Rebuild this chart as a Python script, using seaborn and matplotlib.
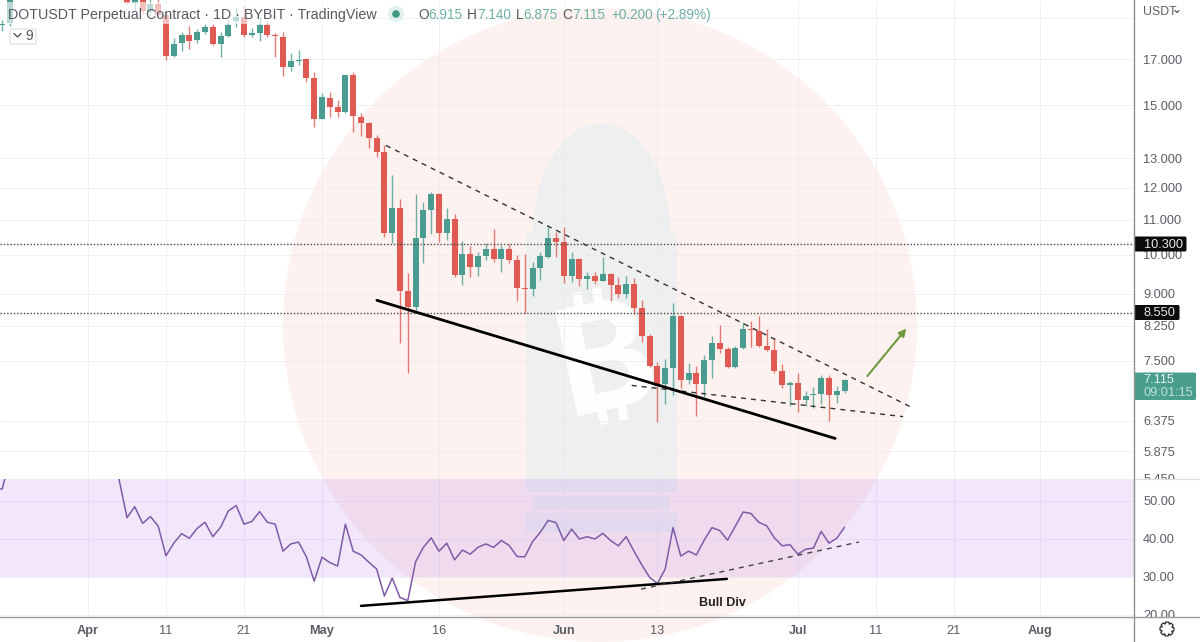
import numpy as np
import pandas as pd
import matplotlib.pyplot as plt
import seaborn as sns
from matplotlib.patches import Circle, Ellipse, Rectangle, FancyBboxPatch, Polygon
from matplotlib.ticker import FixedLocator, FixedFormatter, NullLocator

sns.set_theme(style='white')
plt.rcParams['font.family'] = ['Liberation Sans', 'DejaVu Sans']

# daily candles: two at the far left, then 6 Apr to 7 Jul (the ones between are above the pane)
candle_dates = pd.date_range('2022-03-21', '2022-03-22').append(pd.date_range('2022-04-06', '2022-07-07'))
opens = [18.65, 18.75,
         20.4, 19.79, 20.2, 19.31, 19.73, 19.15, 17.14, 17.75, 18.15, 17.89, 18.28, 18.53, 17.70, 18.08, 18.85, 19.05, 18.13, 18.23, 18.65, 18.13, 18.03, 16.64, 16.91, 17.0, 16.15,
         14.45, 15.29, 14.92, 14.72, 16.28, 14.52, 14.29, 13.72, 13.21, 10.60, 11.35, 9.07, 8.68, 10.46, 11.29, 11.79, 10.60, 11.02, 9.46, 10.02, 9.67, 9.97, 10.16, 9.89, 10.16, 9.86, 9.14, 9.11, 9.64, 9.94, 10.46,
         10.35, 9.44, 9.89, 9.36, 9.44, 9.31, 9.49, 9.21, 8.99, 9.24, 8.65, 8.02, 7.39, 7.04, 7.35, 8.47, 7.12, 7.25, 7.04, 7.51, 7.87, 7.74, 7.37, 7.76, 8.17, 8.13, 7.82, 7.72, 7.29, 7.02,
         7.06, 6.74, 6.84, 6.86, 7.16, 6.84, 6.915]
highs = [18.90, 20.9,
         20.6, 20.4, 20.6, 20.0, 20.1, 19.3, 18.0, 18.28, 18.58, 18.43, 18.70, 18.70, 18.28, 18.90, 19.51, 19.62, 18.49, 19.05, 18.80, 18.23, 18.28, 17.28, 17.42, 17.05, 16.41,
         15.50, 15.55, 15.21, 16.28, 16.41, 14.68, 14.33, 13.83, 13.46, 12.41, 11.63, 9.51, 11.79, 11.54, 11.85, 11.82, 11.35, 11.17, 10.38, 10.24, 10.08, 10.32, 10.72, 10.27, 10.30, 9.99, 10.02, 9.81, 10.08, 10.78, 10.63,
         10.78, 10.08, 9.91, 9.54, 9.54, 9.94, 9.52, 9.41, 9.44, 9.39, 8.84, 8.08, 7.47, 7.55, 8.77, 8.49, 7.45, 7.39, 7.63, 8.02, 8.26, 7.80, 7.82, 8.33, 8.35, 8.47, 8.19, 7.99, 7.43, 7.10,
         7.25, 6.91, 6.99, 7.22, 7.22, 7.01, 7.14]
lows = [18.34, 18.6,
        19.75, 19.41, 19.2, 19.0, 19.1, 16.95, 17.1, 17.37, 17.47, 17.75, 18.19, 17.66, 17.09, 18.03, 18.55, 18.03, 18.03, 17.85, 18.03, 17.09, 16.24, 16.46, 16.73, 15.97, 14.13,
        14.45, 14.53, 14.53, 14.68, 13.95, 13.80, 13.35, 13.03, 10.49, 10.32, 7.87, 7.25, 8.56, 9.78, 10.58, 10.35, 10.41, 9.41, 9.21, 9.41, 9.43, 9.86, 9.81, 9.54, 9.78, 8.82, 8.54, 8.94, 9.34, 9.91, 9.94,
        9.26, 9.29, 9.19, 9.11, 9.24, 9.31, 8.82, 8.89, 8.89, 8.52, 7.89, 7.37, 6.35, 6.67, 6.84, 6.97, 7.04, 6.46, 6.80, 7.16, 7.66, 7.35, 7.35, 7.74, 7.78, 7.80, 7.70, 7.25, 6.97, 6.63,
        6.54, 6.63, 6.61, 6.67, 6.37, 6.69, 6.875]
closes = [18.70, 20.6,
          19.79, 20.3, 19.36, 19.73, 19.15, 17.14, 17.70, 18.15, 17.85, 18.28, 18.53, 17.70, 18.08, 18.65, 19.05, 18.13, 18.23, 18.65, 18.13, 18.08, 16.64, 16.91, 16.95, 16.15, 14.45,
          15.33, 14.92, 14.72, 16.28, 14.56, 14.29, 13.72, 13.21, 10.60, 11.35, 9.07, 8.68, 10.46, 11.29, 11.79, 10.60, 11.02, 9.46, 10.02, 9.67, 9.97, 10.16, 9.89, 10.16, 9.86, 9.14, 9.11, 9.64, 9.97, 10.46, 10.35,
          9.44, 9.89, 9.36, 9.44, 9.31, 9.49, 9.21, 8.99, 9.24, 8.65, 8.02, 7.39, 7.01, 7.35, 8.47, 7.12, 7.25, 7.04, 7.51, 7.87, 7.74, 7.37, 7.76, 8.17, 8.15, 7.82, 7.72, 7.29, 7.02, 7.06,
          6.74, 6.82, 6.86, 7.16, 6.84, 6.915, 7.115]

# RSI, the stretch 23 Mar - 3 Apr runs above the pane
rsi_dates = pd.date_range('2022-03-20', '2022-03-22').append(pd.date_range('2022-04-04', '2022-07-07'))
rsi_values = [53.0, 53.2, 61.0,
              61.0, 55.5, 45.6, 48.5, 44.1, 45.9, 43.4, 35.6, 38.9, 41.4, 40.2, 42.8, 44.4, 40.6, 43.1, 47.4, 48.8, 43.9, 44.6, 47.2, 44.4, 43.9, 36.8, 38.7, 39.2, 35.3, 28.9,
              35.2, 33.8, 32.9, 43.9, 36.8, 35.8, 33.9, 32.1, 25.0, 29.7, 24.6, 23.8, 34.0, 37.8, 40.3, 36.8, 38.9, 34.5, 37.1, 36.0, 37.8, 38.7, 37.8, 39.6, 38.3, 35.4, 35.3, 39.3, 41.8, 44.9, 44.3,
              39.6, 42.6, 40.0, 40.6, 40.0, 41.5, 39.6, 38.2, 40.6, 36.8, 33.2, 29.9, 28.3, 32.1, 43.0, 35.5, 36.8, 35.8, 39.7, 43.0, 42.2, 39.7, 43.4, 47.1, 46.7, 44.4, 43.5, 40.3, 38.2, 38.5,
              36.0, 37.3, 37.6, 42.0, 38.9, 40.2, 43.1]

# the 19.000 label sits under the USDT tag, only its grid line shows
price_ticks = [19, 17, 15, 13, 12, 11, 10, 9, 8.25, 7.5, 6.375, 5.875, 5.45]
price_tick_labels = ['', '17.000', '15.000', '13.000', '12.000', '11.000', '10.000', '9.000', '8.250', '7.500', '6.375', '5.875', '5.450']
rsi_ticks = [50, 40, 30, 20]
rsi_tick_labels = ['50.00', '40.00', '30.00', '20.00']
date_ticks = pd.to_datetime(['2022-04-01', '2022-04-11', '2022-04-21', '2022-05-01', '2022-05-16', '2022-06-01',
                             '2022-06-13', '2022-07-01', '2022-07-11', '2022-07-21', '2022-08-01'])
date_tick_labels = ['Apr', '11', '21', 'May', '16', 'Jun', '13', 'Jul', '11', '21', 'Aug']
month_labels = ['Apr', 'May', 'Jun', 'Jul', 'Aug']

levels = [10.3, 8.55]
upper_trend = (['2022-05-09 05:00', '2022-07-15 19:00'], [13.45, 6.60])
lower_trend = (['2022-06-09 17:00', '2022-07-14 12:00'], [7.02, 6.45])
support_line = (['2022-05-08 01:00', '2022-07-05 19:00'], [8.84, 6.08])
target_arrow = (['2022-07-09 22:00', '2022-07-14 22:00'], [7.20, 8.19])
rsi_solid = (['2022-05-06 00:00', '2022-06-21 22:00'], [22.4, 29.5])
rsi_dashed = (['2022-06-10 22:00', '2022-07-08 20:00'], [26.8, 39.2])

RED = '#df5a52'
GREEN = '#4b9c90'
TEXT = '#5a5d66'


def add_px_axes(x0, y0, x1, y1, **kw):
    return fig.add_axes([x0 / 1200, 1 - y1 / 642, (x1 - x0) / 1200, (y1 - y0) / 642], **kw)


fig = plt.figure(figsize=(12, 6.42), dpi=100, facecolor='white')

# watermark behind the chart
bg = add_px_axes(0, 0, 1200, 642, zorder=0)
bg.set_xlim(0, 1200)
bg.set_ylim(642, 0)
bg.axis('off')
bg.add_patch(Circle((600, 325), 317, color='#fdf2f0', lw=0))
bullet = '#eef0f0'
bg.add_patch(Ellipse((601.5, 233), 137, 220, color=bullet, lw=0))
bg.add_patch(Rectangle((526, 233), 151, 259, color=bullet, lw=0))
bg.add_patch(Rectangle((533, 496), 136, 14, color=bullet, lw=0))
bg.add_patch(Rectangle((526, 513), 151, 20, color=bullet, lw=0))
bg.text(607, 368, '\u20bf', family=['Roboto', 'Inter', 'Noto Sans', 'Open Sans', 'Lato', 'Liberation Sans', 'DejaVu Sans'],
        fontsize=106, fontweight='bold', color='white', ha='center', va='center', rotation=12)

ax = add_px_axes(0, 0, 1134, 479, zorder=1, facecolor='none')
ax_rsi = add_px_axes(0, 479, 1134, 617, zorder=1, facecolor='none', sharex=ax)

# candles
candles = pd.DataFrame({'date': candle_dates, 'open': opens, 'high': highs, 'low': lows, 'close': closes})
candles['color'] = np.where(candles['close'] >= candles['open'], GREEN, RED)
ax.vlines(candles['date'], candles['low'], candles['high'], colors=candles['color'], lw=1.0, alpha=0.8, zorder=3)
ax.bar(candles['date'], candles['close'] - candles['open'], bottom=candles['open'], width=0.76,
       color=candles['color'], lw=0, zorder=4)

ax.set_yscale('log')
ax.set_ylim(5.447, 19.95)
ax.set_xlim(pd.Timestamp('2022-03-20 17:15'), pd.Timestamp('2022-08-13 02:30'))
ax.yaxis.set_major_locator(FixedLocator(price_ticks))
ax.yaxis.set_major_formatter(FixedFormatter(price_tick_labels))
ax.yaxis.set_minor_locator(NullLocator())
ax.yaxis.tick_right()
ax.set_xticks(date_ticks)
ax.tick_params(axis='x', length=0, labelbottom=False)
ax.tick_params(axis='y', length=0, pad=6.5, labelsize=9.2, labelcolor=TEXT)
ax.grid(True, color='#e9e9ef', lw=0.7, alpha=0.7, zorder=0)
sns.despine(ax=ax, left=True, right=True, top=True, bottom=True)

for level in levels:
    ax.axhline(level, color='#444444', lw=1.0, ls=(0, (1, 1.4)), zorder=5)

sns.lineplot(x=pd.to_datetime(upper_trend[0]), y=upper_trend[1], ax=ax, color='#333333', lw=1.0,
             linestyle=(0, (3.6, 3.6)), zorder=6)
sns.lineplot(x=pd.to_datetime(lower_trend[0]), y=lower_trend[1], ax=ax, color='#333333', lw=1.0,
             linestyle=(0, (3.6, 3.6)), zorder=6)
sns.lineplot(x=pd.to_datetime(support_line[0]), y=support_line[1], ax=ax, color='black', lw=2.0, zorder=6)
ax.annotate('', xy=(pd.Timestamp(target_arrow[0][1]), target_arrow[1][1]),
            xytext=(pd.Timestamp(target_arrow[0][0]), target_arrow[1][0]),
            arrowprops=dict(arrowstyle='-|>', color='#6f9a3f', lw=1.5, mutation_scale=11, shrinkA=0, shrinkB=0), zorder=6)

# RSI pane
ax_rsi.axhspan(30, 70, color='#a858e4', alpha=0.15, lw=0, zorder=1)
sns.lineplot(x=rsi_dates, y=rsi_values, ax=ax_rsi, color='#7f5aa8', lw=1.1, zorder=4)
sns.lineplot(x=pd.to_datetime(rsi_solid[0]), y=rsi_solid[1], ax=ax_rsi, color='black', lw=1.8, zorder=5)
sns.lineplot(x=pd.to_datetime(rsi_dashed[0]), y=rsi_dashed[1], ax=ax_rsi, color='#444444', lw=1.0,
             linestyle=(0, (3.6, 3.6)), zorder=5)
ax_rsi.text(pd.Timestamp('2022-06-21 09:00'), 23.16, 'Bull Div', fontsize=9, fontweight='bold', color='#222222',
            ha='center', va='center', zorder=6)
ax_rsi.set_ylim(19.47, 55.79)
ax_rsi.yaxis.set_major_locator(FixedLocator(rsi_ticks))
ax_rsi.yaxis.set_major_formatter(FixedFormatter(rsi_tick_labels))
ax_rsi.yaxis.tick_right()
ax_rsi.set_xticks(date_ticks)
ax_rsi.set_xticklabels(date_tick_labels)
ax_rsi.set_xlabel('')
ax_rsi.set_ylabel('')
ax.set_xlabel('')
ax.set_ylabel('')
ax_rsi.tick_params(axis='x', length=0, pad=6, labelsize=9.2, labelcolor=TEXT)
ax_rsi.tick_params(axis='y', length=0, pad=6.5, labelsize=9.2, labelcolor=TEXT)
for label in ax_rsi.get_xticklabels():
    if label.get_text() in month_labels:
        label.set_fontweight('bold')
ax_rsi.grid(True, color='#e9e9ef', lw=0.7, alpha=0.7, zorder=0)
sns.despine(ax=ax_rsi, left=True, right=True, top=True, bottom=True)

# chart frame, header and price tags on top
top = add_px_axes(0, 0, 1200, 642, zorder=5, facecolor='none')
top.set_xlim(0, 1200)
top.set_ylim(642, 0)
top.axis('off')
top.add_patch(Rectangle((1135, 479), 65, 10, color='white', lw=0))
top.add_patch(Rectangle((1135, 617), 65, 25, color='white', lw=0))
top.plot([1134, 1134], [0, 642], color='#8e8e8e', lw=1.0)
top.plot([0, 1200], [617, 617], color='#9a9a9a', lw=1.0)
top.plot([1135, 1200], [479, 479], color='#dddddd', lw=0.8)

top.add_patch(Rectangle((5, 2), 373, 22, color='white', alpha=0.62, lw=0))
top.text(8, 14.5, 'DOTUSDT Perpetual Contract \u00b7 1D \u00b7 BYBIT \u00b7 TradingView', fontsize=10.3,
         color='#565962', ha='left', va='center')
top.add_patch(Circle((396, 14), 8, color='#e3f1ee', lw=0))
top.add_patch(Circle((396, 14), 3.8, color='#3f9a86', lw=0))
for x, s, c in [(418, 'O', '#555555'), (428, '6.915', '#6fb0a4'), (467, 'H', '#555555'), (477, '7.140', '#6fb0a4'),
                (516, 'L', '#555555'), (523, '6.875', '#6fb0a4'), (562, 'C', '#555555'), (572, '7.115', '#6fb0a4'),
                (611, '+0.200', '#6fb0a4'), (655, '(+2.89%)', '#6fb0a4')]:
    top.text(x, 15, s, fontsize=9.8, color=c, ha='left', va='center')

top.add_patch(FancyBboxPatch((10, 29), 26, 15, boxstyle='round,pad=0,rounding_size=2', fc='white', ec='#dcdcdc', lw=0.8))
top.plot([14, 17.5, 21], [33.5, 37, 33.5], color='#444444', lw=0.9)
top.text(29.5, 36.5, '9', fontsize=10, color='#555555', ha='center', va='center')

top.text(1143, 12, 'USDT', fontsize=8.8, color=TEXT, ha='left', va='center')
top.plot([1175, 1177, 1179], [10.5, 12.5, 10.5], color='#555555', lw=0.9)

top.add_patch(FancyBboxPatch((1134, 236.5), 52.5, 15, boxstyle='round,pad=0,rounding_size=1.5', fc='#0b0b0b', ec='none'))
top.text(1144, 244.5, '10.300', fontsize=9.2, color='#e8e8e8', ha='left', va='center')
top.add_patch(FancyBboxPatch((1134, 305), 45.5, 15, boxstyle='round,pad=0,rounding_size=1.5', fc='#0b0b0b', ec='none'))
top.text(1143, 313, '8.550', fontsize=9.2, color='#e8e8e8', ha='left', va='center')
top.add_patch(FancyBboxPatch((1134, 372.5), 62, 27.5, boxstyle='round,pad=0,rounding_size=1.5', fc='#4a9e8e', ec='none'))
top.text(1143, 380, '7.115', fontsize=9.2, color='#e6f3f0', ha='left', va='center')
top.text(1143, 393, '09:01:15', fontsize=9.2, color='#bfe0d9', ha='left', va='center')

# gear button
angles = np.linspace(0, 2 * np.pi, 64, endpoint=False)
radii = np.where(((angles + np.pi / 16) // (np.pi / 4) * (np.pi / 4) + np.pi / 8 - angles) > 0, 7.0, 5.4)
gear = np.column_stack([1167 + radii * np.cos(angles), 629 + radii * np.sin(angles)])
top.add_patch(Polygon(gear, closed=True, fc='white', ec='#333333', lw=0.9, joinstyle='round'))
top.add_patch(Circle((1167, 629), 2.2, fc='white', ec='white', lw=0))

fig.savefig('out.png', dpi=100)
